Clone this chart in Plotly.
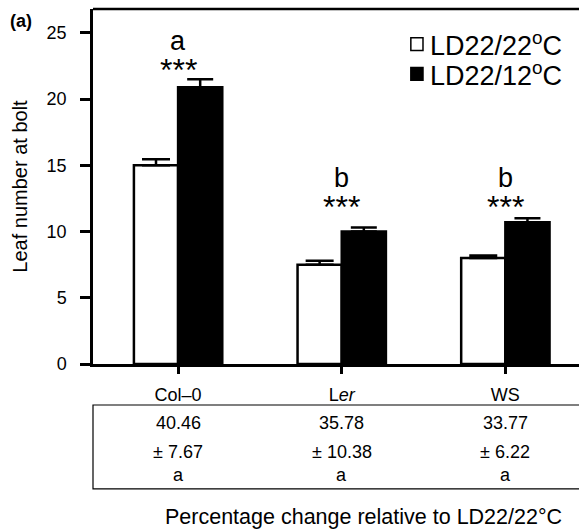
import plotly.graph_objects as go

# Ecotypes and mean leaf number at bolting (with upper SE)
ecotypes = ["Col–0", "L<i>er</i>", "WS"]
warm_mean = [15.0, 7.5, 8.0]      # LD22/22°C
warm_err = [0.45, 0.3, 0.2]
cool_mean = [20.9, 10.0, 10.7]    # LD22/12°C
cool_err = [0.6, 0.3, 0.3]
series_names = ["LD22/22<sup>o</sup>C", "LD22/12<sup>o</sup>C"]
series_fill = ["white", "black"]

# Significance letters and stars above each pair
group_letters = ["a", "b", "b"]
stars = ["***", "***", "***"]

# Percentage change relative to LD22/22°C
pct_change = ["40.46", "35.78", "33.77"]
pct_se = ["7.67", "10.38", "6.22"]
pct_letters = ["a", "a", "a"]

FONT = "Liberation Sans, Arial, sans-serif"
xs = list(range(len(ecotypes)))

fig = go.Figure()
fig.add_trace(go.Bar(
    x=xs, y=warm_mean, name=series_names[0],
    marker=dict(color=series_fill[0], line=dict(color="black", width=2.5)),
    error_y=dict(type="data", array=warm_err, arrayminus=[0] * 3, symmetric=False,
                 color="black", thickness=2.5, width=14),
))
fig.add_trace(go.Bar(
    x=xs, y=cool_mean, name=series_names[1],
    marker=dict(color=series_fill[1], line=dict(color="black", width=2.5)),
    error_y=dict(type="data", array=cool_err, arrayminus=[0] * 3, symmetric=False,
                 color="black", thickness=2.5, width=13),
))

annotations = []
shapes = []
letter_y = [23.5, 13.1, 13.1]
for i in xs:
    annotations.append(dict(x=i, y=letter_y[i], xref="x", yref="y", text=group_letters[i],
                            showarrow=False, yanchor="bottom", yshift=-5,
                            font=dict(size=27, family=FONT, color="black")))
    annotations.append(dict(x=i, y=letter_y[i], xref="x", yref="y", text=stars[i],
                            showarrow=False, yanchor="top", yshift=3,
                            font=dict(size=32, family=FONT, color="black")))
    # table rows under the axis
    annotations.append(dict(x=i, y=-0.166, xref="x", yref="paper", text=pct_change[i],
                            showarrow=False, yanchor="middle",
                            font=dict(size=18, family=FONT, color="black")))
    annotations.append(dict(x=i, y=-0.248, xref="x", yref="paper", text="± " + pct_se[i],
                            showarrow=False, yanchor="middle",
                            font=dict(size=18, family=FONT, color="black")))
    annotations.append(dict(x=i, y=-0.313, xref="x", yref="paper", text=pct_letters[i],
                            showarrow=False, yanchor="middle",
                            font=dict(size=18, family=FONT, color="black")))

# legend: square swatch + label for each series
legend_rows_y = [0.901, 0.817]
for name, fill, ly in zip(series_names, series_fill, legend_rows_y):
    shapes.append(dict(type="rect", xref="paper", yref="paper",
                       x0=0.654, x1=0.679, y0=ly - 0.018, y1=ly + 0.018,
                       line=dict(color="black", width=1.5), fillcolor=fill))
    annotations.append(dict(x=0.689, y=ly, xref="paper", yref="paper", text=name,
                            showarrow=False, xanchor="left", yanchor="middle",
                            font=dict(size=27, family=FONT, color="black")))

annotations.append(dict(x=0.97, y=-0.431, xref="paper", yref="paper",
                        text="Percentage change relative to LD22/22°C",
                        showarrow=False, xanchor="right", yanchor="middle",
                        font=dict(size=21.5, family=FONT, color="black")))
annotations.append(dict(x=-0.175, y=0.966, xref="paper", yref="paper", text="<b>(a)</b>",
                        showarrow=False, xanchor="left", yanchor="middle",
                        font=dict(size=18, family=FONT, color="black")))

shapes += [
    # top frame line
    dict(type="line", xref="paper", yref="paper", x0=0, x1=1.02, y0=1, y1=1,
         line=dict(color="black", width=2.5)),
    # table box
    dict(type="rect", xref="paper", yref="paper", x0=0, x1=1.05, y0=-0.352, y1=-0.1155,
         line=dict(color="black", width=1.2), fillcolor="rgba(0,0,0,0)"),
]

fig.update_layout(
    width=579, height=530,
    margin=dict(l=93, r=0, t=9, b=166),
    paper_bgcolor="white", plot_bgcolor="white",
    barmode="group", bargap=0.46, bargroupgap=0,
    font=dict(family=FONT, color="black"),
    showlegend=False,
    annotations=annotations,
    shapes=shapes,
)

fig.update_xaxes(
    range=[-0.52, 2.45], tickmode="array", tickvals=xs, ticktext=ecotypes,
    showline=True, linecolor="black", linewidth=2.5,
    ticks="outside", ticklen=7, tickwidth=2.5, tickcolor="black",
    tickfont=dict(size=18, family=FONT, color="black"),
    showgrid=False, zeroline=False, ticklabelstandoff=6,
)
fig.update_yaxes(
    range=[0, 26.8], tickmode="array", tickvals=[0, 5, 10, 15, 20, 25],
    showline=True, linecolor="black", linewidth=2.5,
    ticks="outside", ticklen=10, tickwidth=2.5, tickcolor="black",
    tickfont=dict(size=18, family=FONT, color="black"),
    showgrid=False, zeroline=False, ticklabelstandoff=10,
    title=dict(text="Leaf number at bolt", standoff=14,
               font=dict(size=20, family=FONT, color="black")),
)

fig.write_html("out.html")
